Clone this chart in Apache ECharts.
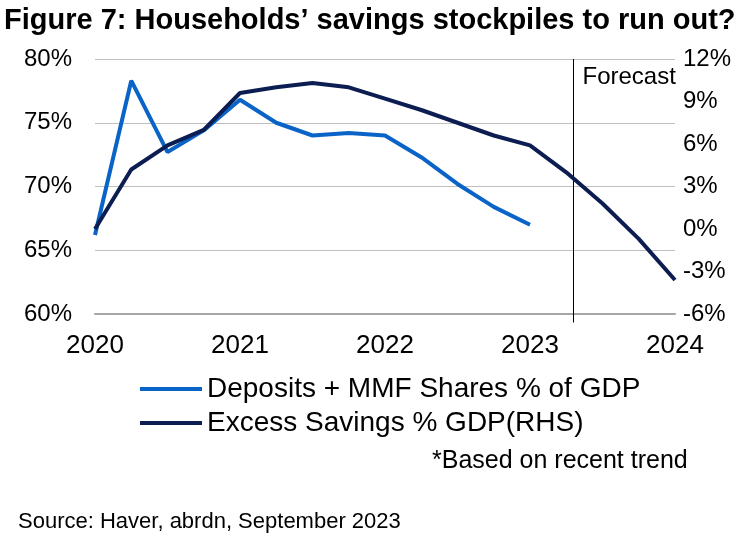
<!DOCTYPE html>
<html><head><meta charset="utf-8">
<script src="https://cdn.jsdelivr.net/npm/echarts@6/dist/echarts.min.js"></script>
<style>html,body{margin:0;padding:0;background:#fff}#c{width:750px;height:536px}</style>
</head><body><div id="c"></div>
<script>
const quarters = [2020, 2020.25, 2020.5, 2020.75, 2021, 2021.25, 2021.5, 2021.75, 2022, 2022.25, 2022.5, 2022.75, 2023, 2023.25, 2023.5, 2023.75, 2024];
const deposits = [66.2, 78.3, 72.7, 74.4, 76.8, 75.0, 74.0, 74.2, 74.0, 72.3, 70.2, 68.4, 67.0];
const excessSavings = [0.0, 4.2, 5.9, 7.0, 9.6, 10.0, 10.3, 10.0, 9.2, 8.4, 7.5, 6.6, 5.9, 4.0, 1.8, -0.7, -3.6];
const forecastStart = 2023.3;
const forecastSpan = [-6.6, 12];
const leftTicks = {min: 60, max: 80, interval: 5};
const rightTicks = {min: -6, max: 12, interval: 3};
const xTicks = {min: 2020, max: 2024, interval: 1};

const F = 'Liberation Sans, Arial, sans-serif';
const chart = echarts.init(document.getElementById('c'));
chart.setOption({
  animation: false,
  textStyle: {fontFamily: F},
  title: [
    {text: 'Figure 7: Households’ savings stockpiles to run out?', left: -1, top: 1,
     textStyle: {fontFamily: F, fontSize: 29, fontWeight: 'bold', color: '#000'}},
    {text: '*Based on recent trend', left: 427, top: 444,
     textStyle: {fontFamily: F, fontSize: 25, fontWeight: 'normal', color: '#000'}},
    {text: 'Source: Haver, abrdn, September 2023', left: 13, top: 506,
     textStyle: {fontFamily: F, fontSize: 22, fontWeight: 'normal', color: '#000'}}
  ],
  grid: {left: 95, right: 75, top: 59, height: 255, containLabel: false},
  legend: {
    orient: 'vertical', left: 140, top: 375, itemWidth: 62, itemHeight: 4, itemGap: 6,
    icon: 'rect', padding: 0,
    textStyle: {fontFamily: F, fontSize: 28, color: '#000'},
    data: ['Deposits + MMF Shares % of GDP', 'Excess Savings % GDP(RHS)']
  },
  xAxis: {
    type: 'value', min: xTicks.min, max: xTicks.max, interval: xTicks.interval,
    axisLine: {show: true, onZero: false, lineStyle: {color: '#A6A6A6', width: 2}},
    axisTick: {show: false}, splitLine: {show: false},
    axisLabel: {fontFamily: F, fontSize: 26, color: '#000', margin: 19, formatter: v => String(v)}
  },
  yAxis: [
    {type: 'value', min: leftTicks.min, max: leftTicks.max, interval: leftTicks.interval,
     axisLine: {show: false}, axisTick: {show: false},
     splitLine: {lineStyle: {color: '#BFBFBF', width: 1}},
     axisLabel: {fontFamily: F, fontSize: 24, color: '#000', margin: 23, formatter: v => v + '%'}},
    {type: 'value', min: rightTicks.min, max: rightTicks.max, interval: rightTicks.interval,
     axisLine: {show: false}, axisTick: {show: false}, splitLine: {show: false},
     axisLabel: {fontFamily: F, fontSize: 24, color: '#000', margin: 8, formatter: v => v + '%'}}
  ],
  series: [
    {name: 'Forecast', type: 'line', yAxisIndex: 1, clip: false, silent: true,
     data: forecastSpan.map(v => [forecastStart, v]),
     showSymbol: false, symbol: 'none', color: '#000',
     lineStyle: {width: 1, color: '#000'}, z: 2,
     endLabel: {show: true, formatter: 'Forecast', distance: 9, offset: [0, 18],
                fontFamily: F, fontSize: 24, color: '#000'}},
    {name: 'Deposits + MMF Shares % of GDP', type: 'line', yAxisIndex: 0,
     data: deposits.map((v, i) => [quarters[i], v]),
     showSymbol: false, symbol: 'none', color: '#0A63C6',
     lineStyle: {width: 4, color: '#0A63C6'}, z: 3},
    {name: 'Excess Savings % GDP(RHS)', type: 'line', yAxisIndex: 1,
     data: excessSavings.map((v, i) => [quarters[i], v]),
     showSymbol: false, symbol: 'none', color: '#0B1D51',
     lineStyle: {width: 4, color: '#0B1D51'}, z: 4}
  ]
});
</script></body></html>
